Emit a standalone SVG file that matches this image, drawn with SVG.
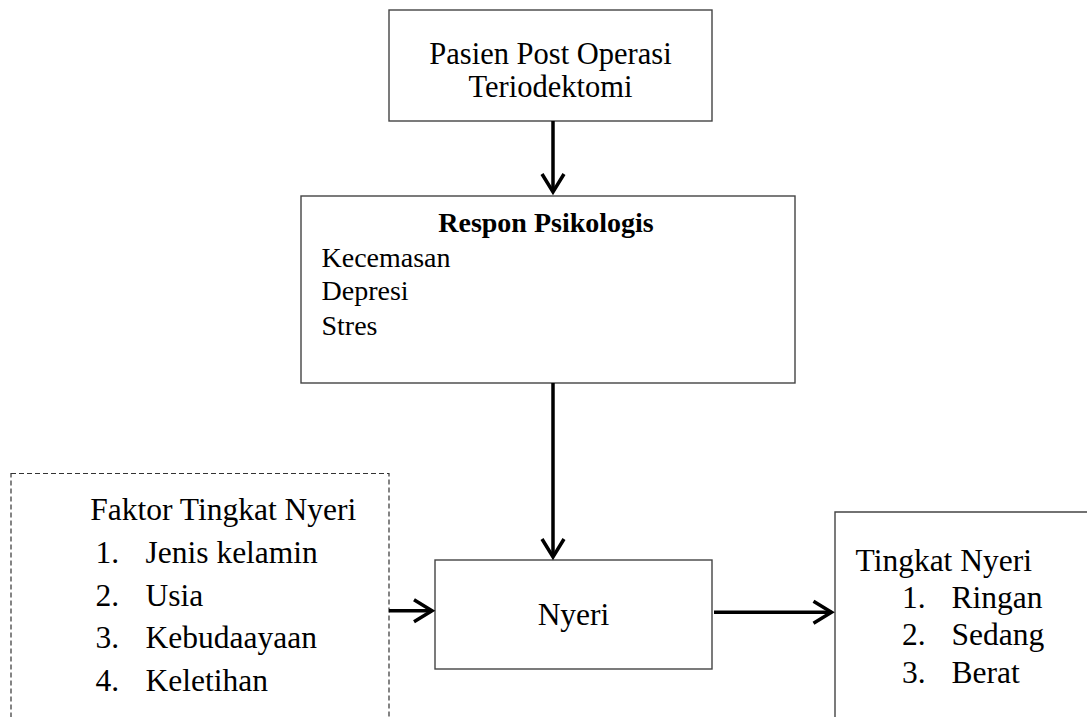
<svg xmlns="http://www.w3.org/2000/svg" width="1087" height="717" viewBox="0 0 1087 717">
  <style>
    .box { fill: #ffffff; stroke: #444444; stroke-width: 1.4; }
    .dash { fill: none; stroke: #333333; stroke-width: 1.2; stroke-dasharray: 5 3; }
    .conn { fill: none; stroke: #000000; stroke-width: 3.5; }
    text { font-family: "Liberation Serif", "Times New Roman", serif; fill: #000000; }
    .t32 { font-size: 31.5px; }
    .t30 { font-size: 30.5px; }
    .t28 { font-size: 28px; }
    .b { font-weight: bold; }
  </style>
  <defs>
    <marker id="arrow" markerUnits="userSpaceOnUse" markerWidth="30" markerHeight="30" viewBox="-22 -15 30 30" refX="0" refY="0" orient="auto" overflow="visible">
      <path d="M-18,-11 L0,0 L-18,11" fill="none" stroke="#000000" stroke-width="3.5" stroke-linejoin="miter"/>
    </marker>
  </defs>
  <rect width="1087" height="717" fill="#ffffff"/>

  <g id="node-pasien">
    <rect class="box" x="389" y="10" width="323" height="111"/>
    <text class="t30" x="550.5" y="64" text-anchor="middle">Pasien Post Operasi</text>
    <text class="t30" x="550.5" y="97" text-anchor="middle">Teriodektomi</text>
  </g>

  <g id="node-respon">
    <rect class="box" x="301" y="196" width="494" height="187"/>
    <text class="t28 b" x="546" y="232" text-anchor="middle">Respon Psikologis</text>
    <text class="t28" x="321.5" y="267">Kecemasan</text>
    <text class="t28" x="321.5" y="300">Depresi</text>
    <text class="t28" x="321.5" y="335">Stres</text>
  </g>

  <g id="node-faktor">
    <rect class="dash" x="11" y="473.5" width="378" height="260"/>
    <text class="t32" x="90.3" y="520">Faktor Tingkat Nyeri</text>
    <text class="t32" x="95.5" y="563">1.</text>
    <text class="t32" x="145.5" y="563">Jenis kelamin</text>
    <text class="t32" x="95.5" y="606">2.</text>
    <text class="t32" x="145.5" y="606">Usia</text>
    <text class="t32" x="95.5" y="648">3.</text>
    <text class="t32" x="145.5" y="648">Kebudaayaan</text>
    <text class="t32" x="95.5" y="690.7">4.</text>
    <text class="t32" x="145.5" y="690.7">Keletihan</text>
  </g>

  <g id="node-nyeri">
    <rect class="box" x="435" y="560" width="277" height="109"/>
    <text class="t32" x="573.5" y="625" text-anchor="middle">Nyeri</text>
  </g>

  <g id="node-tingkat">
    <path class="box" d="M1090,512 H835 V720" fill="none"/>
    <text class="t32" x="855.5" y="570.7">Tingkat Nyeri</text>
    <text class="t32" x="902" y="608.3">1.</text>
    <text class="t32" x="951.5" y="608.3">Ringan</text>
    <text class="t32" x="902" y="645">2.</text>
    <text class="t32" x="951.5" y="645">Sedang</text>
    <text class="t32" x="902" y="682.7">3.</text>
    <text class="t32" x="951.5" y="682.7">Berat</text>
  </g>

  <g id="connectors">
    <line class="conn" x1="553" y1="121" x2="553" y2="192" marker-end="url(#arrow)"/>
    <line class="conn" x1="553" y1="383" x2="553" y2="557" marker-end="url(#arrow)"/>
    <line class="conn" x1="389" y1="610.7" x2="432" y2="610.7" marker-end="url(#arrow)"/>
    <line class="conn" x1="714" y1="612.3" x2="831.5" y2="612.3" marker-end="url(#arrow)"/>
  </g>
</svg>
